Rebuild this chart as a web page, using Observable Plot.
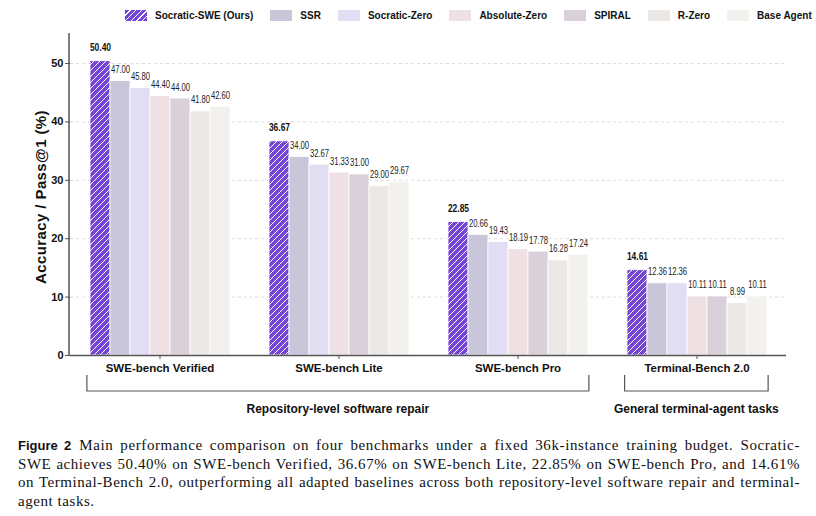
<!DOCTYPE html>
<html>
<head>
<meta charset="utf-8">
<script src="https://cdn.jsdelivr.net/npm/d3@7"></script>
<script src="https://cdn.jsdelivr.net/npm/@observablehq/plot@0.6"></script>
<style>
  body { margin: 0; background: #fff; width: 816px; height: 516px; position: relative; overflow: hidden; font-family: "Liberation Sans", Arial, sans-serif; }
  #legend { position: absolute; top: 10px; left: 125px; display: flex; align-items: center; font: bold 10px "Liberation Sans", sans-serif; color: #111; white-space: nowrap; }
  #legend .item { display: flex; align-items: center; margin-right: 17px; }
  #legend .sw { width: 22px; height: 11px; margin-right: 8px; box-sizing: border-box; }
  #chart { position: absolute; top: 28px; left: 0; }
  #caption { position: absolute; top: 436px; left: 18px; width: 782px; font: 15px/18.7px "Liberation Serif", "Times New Roman", serif; color: #111; }
  #caption .ln { text-align: justify; text-align-last: justify; }
  #caption .ln.last { text-align-last: left; }
  #caption .ln span.fit { white-space: nowrap; }
  #caption b { font: bold 13px "Liberation Sans", sans-serif; letter-spacing: 0; margin-right: 8px; }
</style>
</head>
<body>
<div id="legend"></div>
<div id="chart"></div>
<div id="caption">
  <div class="ln"><b>Figure 2</b>Main performance comparison on four benchmarks under a fixed 36k-instance training budget. Socratic-</div>
  <div class="ln">SWE achieves 50.40% on SWE-bench Verified, 36.67% on SWE-bench Lite, 22.85% on SWE-bench Pro, and 14.61%</div>
  <div class="ln">on Terminal-Bench 2.0, outperforming all adapted baselines across both repository-level software repair and terminal-</div>
  <div class="ln last">agent tasks.</div>
</div>
<script>
// Benchmarks (x groups) and compared methods (bars within each group)
const benchmarks = ["SWE-bench Verified", "SWE-bench Lite", "SWE-bench Pro", "Terminal-Bench 2.0"];
const methods = ["Socratic-SWE (Ours)", "SSR", "Socratic-Zero", "Absolute-Zero", "SPIRAL", "R-Zero", "Base Agent"];

// Accuracy / Pass@1 (%) per method, in benchmark order
const socraticSWE  = [50.40, 36.67, 22.85, 14.61];
const ssr          = [47.00, 34.00, 20.66, 12.36];
const socraticZero = [45.80, 32.67, 19.43, 12.36];
const absoluteZero = [44.40, 31.33, 18.19, 10.11];
const spiral       = [44.00, 31.00, 17.78, 10.11];
const rZero        = [41.80, 29.00, 16.28, 8.99];
const baseAgent    = [42.60, 29.67, 17.24, 10.11];

const yTicks = [0, 10, 20, 30, 40, 50];

// Task-family brackets under the benchmark labels
const taskGroups = [
  { label: "Repository-level software repair", from: "SWE-bench Verified", to: "SWE-bench Pro" },
  { label: "General terminal-agent tasks", from: "Terminal-Bench 2.0", to: "Terminal-Bench 2.0" }
];

// Bar fills (first entry is the hatched pattern defined below)
const palette = ["url(#hatch-ours)", "#c9c6d9", "#e1ddf2", "#efe0e4", "#d9d0da", "#ece8e5", "#f3f1ed"];
const legendSwatches = [
  "repeating-linear-gradient(-45deg, #7546d6 0 3px, #ffffff 3px 4px)",
  ...palette.slice(1)
];

const series = [socraticSWE, ssr, socraticZero, absoluteZero, spiral, rZero, baseAgent];
const rows = benchmarks.flatMap((b, i) => methods.map((m, j) => ({ benchmark: b, method: m, value: series[j][i] })));

// Legend
const legend = d3.select("#legend");
methods.forEach((m, j) => {
  const it = legend.append("div").attr("class", "item");
  it.append("div").attr("class", "sw").style("background", legendSwatches[j]);
  it.append("span").text(m);
});

// Layout
const W = 816, H = 400, mL = 69, mR = 30, mT = 5, mB = 73;
const xPadOuter = 0.872;

const plot = Plot.plot({
  width: W, height: H,
  marginLeft: mL, marginRight: mR, marginTop: mT, marginBottom: mB,
  style: { fontFamily: "'Liberation Sans', sans-serif", background: "transparent", overflow: "visible", color: "#111" },
  fx: { domain: benchmarks, padding: 0, label: null },
  x: { domain: methods, paddingInner: 0, paddingOuter: xPadOuter, axis: null },
  y: { domain: [0, 55.14] },
  color: { domain: methods, range: palette },
  marks: [
    Plot.gridY(yTicks, { stroke: "#999", strokeOpacity: 0.35, strokeDasharray: "3,3" }),
    Plot.barY(rows, { fx: "benchmark", x: "method", y: "value", fill: "method", stroke: "#fff", strokeWidth: 0.8 }),
    Plot.text(rows.filter(d => d.method !== methods[0]), {
      fx: "benchmark", x: "method", y: "value", text: d => d.value.toFixed(2),
      dy: -8, fontSize: 10, fill: "#222"
    }),
    Plot.text(rows.filter(d => d.method === methods[0]), {
      fx: "benchmark", x: "method", y: "value", text: d => d.value.toFixed(2),
      dy: -10, fontSize: 11, fontWeight: "bold", fill: "#111"
    }),
    Plot.ruleY([0], { stroke: "#555", strokeWidth: 1.5 }),
    Plot.axisY(yTicks, { tickSize: 5, tickPadding: 2, fontSize: 11, fontWeight: "bold", label: null, stroke: "#555" }),
    Plot.axisFx({ anchor: "bottom", tickSize: 4, tickPadding: 4, fontSize: 11.5, fontWeight: "bold", label: null, stroke: "#555" })
  ]
});
document.getElementById("chart").appendChild(plot);

const svg = d3.select(plot);

// Narrow the value labels horizontally so neighbouring labels stay apart
svg.selectAll('g[aria-label="text"] text').each(function () {
  const t = d3.select(this);
  const x = +t.attr("x") || 0, y = +t.attr("y") || 0;
  const tr = t.attr("transform") || "";
  t.attr("x", null).attr("y", null).attr("transform", `${tr} translate(${x},${y}) scale(0.77,1)`);
});

// Hatch pattern for the highlighted method
const defs = svg.insert("defs", ":first-child");
const pat = defs.append("pattern").attr("id", "hatch-ours")
  .attr("patternUnits", "userSpaceOnUse").attr("width", 6).attr("height", 6);
pat.append("rect").attr("width", 6).attr("height", 6).attr("fill", "#7546d6");
pat.append("path").attr("d", "M-1,1 l2,-2 M0,6 l6,-6 M5,7 l2,-2").attr("stroke", "#fff").attr("stroke-width", 1);

// Scales mirroring the plot's band layout
const fxS = d3.scaleBand().domain(benchmarks).range([mL, W - mR]).padding(0);
const xS = d3.scaleBand().domain(methods).range([0, fxS.bandwidth()]).paddingInner(0).paddingOuter(xPadOuter);
const yS = d3.scaleLinear().domain([0, 55.14]).range([H - mB, mT]);

// Left spine
svg.append("line").attr("x1", mL).attr("x2", mL).attr("y1", yS(0)).attr("y2", mT)
  .attr("stroke", "#555").attr("stroke-width", 1.5);

// Y-axis title
svg.append("text").attr("transform", `translate(${mL - 27},${(yS(0) + mT) / 2 + 3}) rotate(-90)`)
  .attr("text-anchor", "middle").attr("dominant-baseline", "middle")
  .attr("font-family", "'Liberation Sans', sans-serif").attr("font-size", 15).attr("font-weight", "bold")
  .attr("letter-spacing", "0.4px").attr("fill", "#111").text("Accuracy / Pass@1 (%)");

// Task-family brackets
const yTop = yS(0) + 20, yBot = yS(0) + 36, yLab = yS(0) + 55;
taskGroups.forEach(g => {
  const x1 = fxS(g.from) + xS(methods[0]);
  const x2 = fxS(g.to) + xS(methods[methods.length - 1]) + xS.bandwidth();
  svg.append("path").attr("d", `M${x1},${yTop}V${yBot}H${x2}V${yTop}`)
    .attr("fill", "none").attr("stroke", "#555").attr("stroke-width", 1.2);
  svg.append("text").attr("x", (x1 + x2) / 2).attr("y", yLab)
    .attr("text-anchor", "middle").attr("dominant-baseline", "middle")
    .attr("font-family", "'Liberation Sans', sans-serif").attr("font-size", 12).attr("font-weight", "bold")
    .attr("fill", "#111").text(g.label);
});

// Caption: widen letters a little on each line so justification keeps word gaps modest
const capLines = Array.from(document.querySelectorAll("#caption .ln"));
const target = 770;
let spacings = [];
capLines.forEach(ln => {
  if (ln.classList.contains("last")) return;
  const probe = document.createElement("span");
  probe.className = "fit";
  probe.innerHTML = ln.innerHTML;
  probe.style.position = "absolute";
  probe.style.visibility = "hidden";
  ln.appendChild(probe);
  const w = probe.getBoundingClientRect().width;
  const n = probe.textContent.length;
  probe.remove();
  const ls = Math.max(-0.3, Math.min(0.6, (target - w) / n));
  ln.style.letterSpacing = ls.toFixed(3) + "px";
  spacings.push(ls);
});
const lastLine = document.querySelector("#caption .ln.last");
if (spacings.length) lastLine.style.letterSpacing = (d3.mean(spacings)).toFixed(3) + "px";
</script>
</body>
</html>
